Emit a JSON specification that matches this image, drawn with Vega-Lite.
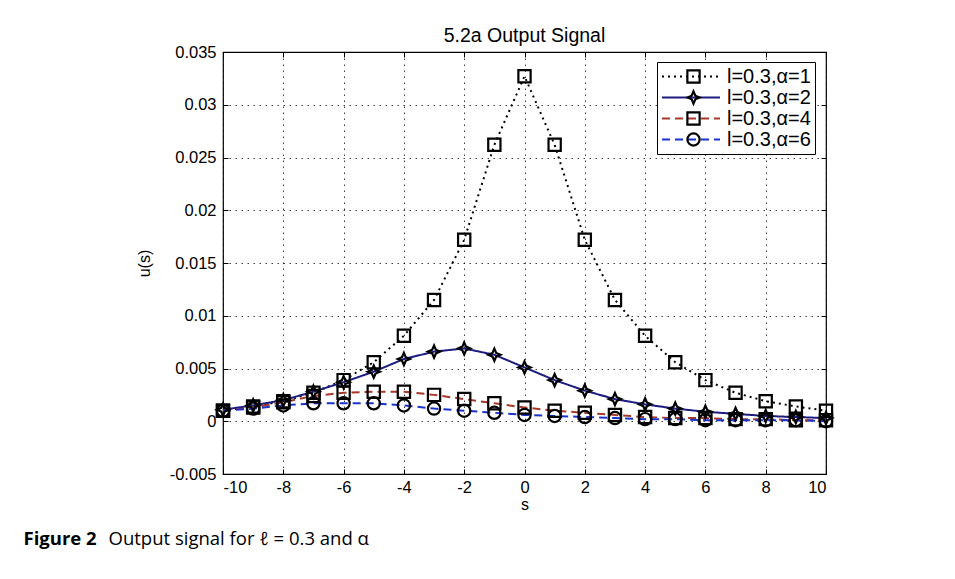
{
  "$schema": "https://vega.github.io/schema/vega-lite/v6.json",
  "background": "white",
  "padding": {"left": 23, "top": 24, "right": 0, "bottom": 0},
  "spacing": 15,
  "config": {
    "font": "Liberation Sans",
    "title": {"fontSize": 19.5, "fontWeight": "normal", "color": "#000", "offset": -2},
    "axis": {
      "labelColor": "#000",
      "titleColor": "#000",
      "labelFontSize": 16.5,
      "titleFontSize": 16,
      "titleFontWeight": "normal",
      "tickColor": "#000",
      "tickSize": -5,
      "labelPadding": 12,
      "domain": false,
      "gridColor": "#000",
      "gridDash": [1.5, 4.5],
      "gridOpacity": 0.75,
      "gridWidth": 1
    }
  },
  "vconcat": [
    {
      "width": 603,
      "height": 422,
      "title": {"text": "5.2a Output Signal"},
      "view": {"stroke": "#000", "strokeWidth": 1.2},
      "data": {
        "values": [
          {"s": -10, "u": 0.0010, "series": "l=0.3,α=1"},
          {"s": -9, "u": 0.0014, "series": "l=0.3,α=1"},
          {"s": -8, "u": 0.0019, "series": "l=0.3,α=1"},
          {"s": -7, "u": 0.0027, "series": "l=0.3,α=1"},
          {"s": -6, "u": 0.0039, "series": "l=0.3,α=1"},
          {"s": -5, "u": 0.0056, "series": "l=0.3,α=1"},
          {"s": -4, "u": 0.0081, "series": "l=0.3,α=1"},
          {"s": -3, "u": 0.0115, "series": "l=0.3,α=1"},
          {"s": -2, "u": 0.0172, "series": "l=0.3,α=1"},
          {"s": -1, "u": 0.0262, "series": "l=0.3,α=1"},
          {"s": 0, "u": 0.0327, "series": "l=0.3,α=1"},
          {"s": 1, "u": 0.0262, "series": "l=0.3,α=1"},
          {"s": 2, "u": 0.0172, "series": "l=0.3,α=1"},
          {"s": 3, "u": 0.0115, "series": "l=0.3,α=1"},
          {"s": 4, "u": 0.0081, "series": "l=0.3,α=1"},
          {"s": 5, "u": 0.0056, "series": "l=0.3,α=1"},
          {"s": 6, "u": 0.0039, "series": "l=0.3,α=1"},
          {"s": 7, "u": 0.0027, "series": "l=0.3,α=1"},
          {"s": 8, "u": 0.0019, "series": "l=0.3,α=1"},
          {"s": 9, "u": 0.0014, "series": "l=0.3,α=1"},
          {"s": 10, "u": 0.0010, "series": "l=0.3,α=1"},
          {"s": -10, "u": 0.0011, "series": "l=0.3,α=2"},
          {"s": -9, "u": 0.0015, "series": "l=0.3,α=2"},
          {"s": -8, "u": 0.0020, "series": "l=0.3,α=2"},
          {"s": -7, "u": 0.0028, "series": "l=0.3,α=2"},
          {"s": -6, "u": 0.0037, "series": "l=0.3,α=2"},
          {"s": -5, "u": 0.0047, "series": "l=0.3,α=2"},
          {"s": -4, "u": 0.0059, "series": "l=0.3,α=2"},
          {"s": -3, "u": 0.0066, "series": "l=0.3,α=2"},
          {"s": -2, "u": 0.0069, "series": "l=0.3,α=2"},
          {"s": -1, "u": 0.0063, "series": "l=0.3,α=2"},
          {"s": 0, "u": 0.0051, "series": "l=0.3,α=2"},
          {"s": 1, "u": 0.0039, "series": "l=0.3,α=2"},
          {"s": 2, "u": 0.0029, "series": "l=0.3,α=2"},
          {"s": 3, "u": 0.0021, "series": "l=0.3,α=2"},
          {"s": 4, "u": 0.0016, "series": "l=0.3,α=2"},
          {"s": 5, "u": 0.0012, "series": "l=0.3,α=2"},
          {"s": 6, "u": 0.0009, "series": "l=0.3,α=2"},
          {"s": 7, "u": 0.0007, "series": "l=0.3,α=2"},
          {"s": 8, "u": 0.0005, "series": "l=0.3,α=2"},
          {"s": 9, "u": 0.0004, "series": "l=0.3,α=2"},
          {"s": 10, "u": 0.0003, "series": "l=0.3,α=2"},
          {"s": -10, "u": 0.0010, "series": "l=0.3,α=4"},
          {"s": -9, "u": 0.0013, "series": "l=0.3,α=4"},
          {"s": -8, "u": 0.0018, "series": "l=0.3,α=4"},
          {"s": -7, "u": 0.0024, "series": "l=0.3,α=4"},
          {"s": -6, "u": 0.0027, "series": "l=0.3,α=4"},
          {"s": -5, "u": 0.0028, "series": "l=0.3,α=4"},
          {"s": -4, "u": 0.0028, "series": "l=0.3,α=4"},
          {"s": -3, "u": 0.0025, "series": "l=0.3,α=4"},
          {"s": -2, "u": 0.0021, "series": "l=0.3,α=4"},
          {"s": -1, "u": 0.0017, "series": "l=0.3,α=4"},
          {"s": 0, "u": 0.0013, "series": "l=0.3,α=4"},
          {"s": 1, "u": 0.0010, "series": "l=0.3,α=4"},
          {"s": 2, "u": 0.0008, "series": "l=0.3,α=4"},
          {"s": 3, "u": 0.0006, "series": "l=0.3,α=4"},
          {"s": 4, "u": 0.0004, "series": "l=0.3,α=4"},
          {"s": 5, "u": 0.0003, "series": "l=0.3,α=4"},
          {"s": 6, "u": 0.0003, "series": "l=0.3,α=4"},
          {"s": 7, "u": 0.0002, "series": "l=0.3,α=4"},
          {"s": 8, "u": 0.0002, "series": "l=0.3,α=4"},
          {"s": 9, "u": 0.0001, "series": "l=0.3,α=4"},
          {"s": 10, "u": 0.0001, "series": "l=0.3,α=4"},
          {"s": -10, "u": 0.0010, "series": "l=0.3,α=6"},
          {"s": -9, "u": 0.0012, "series": "l=0.3,α=6"},
          {"s": -8, "u": 0.0015, "series": "l=0.3,α=6"},
          {"s": -7, "u": 0.0017, "series": "l=0.3,α=6"},
          {"s": -6, "u": 0.0017, "series": "l=0.3,α=6"},
          {"s": -5, "u": 0.0017, "series": "l=0.3,α=6"},
          {"s": -4, "u": 0.0015, "series": "l=0.3,α=6"},
          {"s": -3, "u": 0.0012, "series": "l=0.3,α=6"},
          {"s": -2, "u": 0.0010, "series": "l=0.3,α=6"},
          {"s": -1, "u": 0.0008, "series": "l=0.3,α=6"},
          {"s": 0, "u": 0.0006, "series": "l=0.3,α=6"},
          {"s": 1, "u": 0.0005, "series": "l=0.3,α=6"},
          {"s": 2, "u": 0.0004, "series": "l=0.3,α=6"},
          {"s": 3, "u": 0.0003, "series": "l=0.3,α=6"},
          {"s": 4, "u": 0.0002, "series": "l=0.3,α=6"},
          {"s": 5, "u": 0.0002, "series": "l=0.3,α=6"},
          {"s": 6, "u": 0.0001, "series": "l=0.3,α=6"},
          {"s": 7, "u": 0.0001, "series": "l=0.3,α=6"},
          {"s": 8, "u": 0.0001, "series": "l=0.3,α=6"},
          {"s": 9, "u": 0.0001, "series": "l=0.3,α=6"},
          {"s": 10, "u": 0.0000, "series": "l=0.3,α=6"}
        ]
      },
      "encoding": {
        "x": {
          "field": "s", "type": "quantitative",
          "scale": {"domain": [-10, 10], "nice": false, "zero": false},
          "axis": {
            "values": [-10, -8, -6, -4, -2, 0, 2, 4, 6, 8, 10],
            "labelExpr": "replace(datum.label, '\u2212', '-')",
            "labelPadding": 10,
            "title": "s", "titlePadding": 1
          }
        },
        "y": {
          "field": "u", "type": "quantitative",
          "scale": {"domain": [-0.005, 0.035], "nice": false, "zero": false},
          "axis": {
            "values": [-0.005, 0, 0.005, 0.01, 0.015, 0.02, 0.025, 0.03, 0.035],
            "format": "~g",
            "labelExpr": "replace(datum.label, '\u2212', '-')",
            "title": "u(s)", "titlePadding": 17
          }
        }
      },
      "layer": [
        {
          "mark": {"type": "line", "strokeWidth": 2},
          "encoding": {
            "color": {
              "field": "series", "type": "nominal",
              "scale": {"domain": ["l=0.3,α=1", "l=0.3,α=2", "l=0.3,α=4", "l=0.3,α=6"], "range": ["#000000", "#1c1c80", "#a8382a", "#1a33cc"]},
              "legend": {
                "orient": "none", "legendX": 434, "legendY": 10, "title": null,
                "symbolType": "stroke", "symbolSize": 3364, "symbolStrokeWidth": 2,
                "labelFontSize": 20, "labelColor": "#000", "labelOffset": 6,
                "fillColor": "#ffffff", "strokeColor": "#000000", "padding": 4,
                "clipHeight": 21, "rowPadding": 0
              }
            },
            "strokeDash": {
              "field": "series", "type": "nominal",
              "scale": {"domain": ["l=0.3,α=1", "l=0.3,α=2", "l=0.3,α=4", "l=0.3,α=6"], "range": [[2, 4], [1, 0], [8, 5], [8, 5]]}
            }
          }
        },
        {
          "mark": {"type": "point", "filled": false, "strokeWidth": 2.2, "size": 150, "color": "#000", "opacity": 1},
          "encoding": {
            "x": {
              "field": "s", "type": "quantitative",
              "axis": {"orient": "top", "labels": false, "grid": false, "title": null, "values": [-10, -8, -6, -4, -2, 0, 2, 4, 6, 8, 10]}
            },
            "y": {
              "field": "u", "type": "quantitative",
              "axis": {"orient": "right", "labels": false, "grid": false, "title": null, "values": [-0.005, 0, 0.005, 0.01, 0.015, 0.02, 0.025, 0.03, 0.035]}
            },
            "shape": {
              "field": "series", "type": "nominal",
              "scale": {"range": ["square", "M0,-1L0.3,-0.3L1,0L0.3,0.3L0,1L-0.3,0.3L-1,0L-0.3,-0.3Z", "square", "circle"]},
              "legend": {
                "orient": "none", "legendX": 463, "legendY": 14, "title": null,
                "labelExpr": "''", "symbolSize": 150, "symbolStrokeWidth": 2.2,
                "symbolStrokeColor": "#000", "symbolFillColor": "transparent",
                "padding": 0, "clipHeight": 21, "rowPadding": 0
              }
            }
          }
        }
      ],
      "resolve": {"axis": {"x": "independent", "y": "independent"}}
    },
    {
      "width": 1,
      "height": 20,
      "view": {"stroke": null},
      "data": {"values": [
        {"part": "Figure 2", "weight": "bold"},
        {"part": "Output signal for ℓ = 0.3 and α", "weight": "normal"}
      ]},
      "layer": [
        {
          "transform": [{"filter": "datum.weight == 'bold'"}],
          "mark": {"type": "text", "align": "left", "baseline": "middle", "font": "Open Sans", "fontSize": 18.5, "fontWeight": "bold", "color": "#000", "dx": -200},
          "encoding": {"text": {"field": "part"}}
        },
        {
          "transform": [{"filter": "datum.weight == 'normal'"}],
          "mark": {"type": "text", "align": "left", "baseline": "middle", "font": "Open Sans", "fontSize": 18.5, "color": "#000", "dx": -115},
          "encoding": {"text": {"field": "part"}}
        }
      ]
    }
  ]
}
